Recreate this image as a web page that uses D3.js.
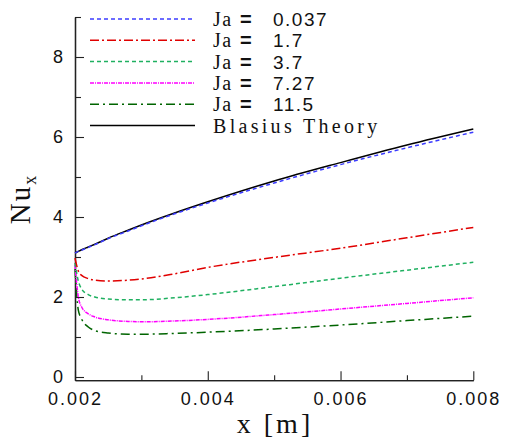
<!DOCTYPE html>
<html><head><meta charset="utf-8">
<script src="https://cdn.jsdelivr.net/npm/d3@7"></script>
<style>body{margin:0;background:#fff}svg{display:block}</style>
</head><body>
<script>
const xs = [0.002, 0.00205, 0.0021, 0.0022, 0.0023, 0.0025, 0.0028, 0.003, 0.0035, 0.004, 0.005, 0.006, 0.007, 0.008];
const ja0037 = [3.10, 3.14, 3.17, 3.24, 3.31, 3.46, 3.65, 3.78, 4.08, 4.35, 4.85, 5.31, 5.73, 6.12];
const ja17   = [2.97, 2.65, 2.54, 2.46, 2.42, 2.40, 2.42, 2.45, 2.58, 2.74, 2.99, 3.22, 3.48, 3.74];
const ja37   = [2.85, 2.40, 2.20, 2.06, 2.00, 1.95, 1.93, 1.93, 1.98, 2.06, 2.26, 2.47, 2.67, 2.87];
const ja727  = [2.80, 2.00, 1.75, 1.58, 1.50, 1.43, 1.39, 1.38, 1.40, 1.44, 1.56, 1.70, 1.84, 1.98];
const ja115  = [2.70, 1.67, 1.45, 1.25, 1.16, 1.10, 1.07, 1.07, 1.09, 1.12, 1.20, 1.30, 1.41, 1.52];
const blasius= [3.10, 3.14, 3.18, 3.25, 3.32, 3.47, 3.67, 3.80, 4.10, 4.38, 4.90, 5.36, 5.80, 6.20];
const labels = ["0.037", "1.7", "3.7", "7.27", "11.5"];
const xTicks = [0.002, 0.004, 0.006, 0.008];
const xMinor = [0.003, 0.005, 0.007];
const yTicks = [0, 2, 4, 6, 8];
const yMinor = [1, 3, 5, 7, 9];

const W = 506, H = 438;
const svg = d3.select("body").append("svg").attr("width", W).attr("height", H);
const x = d3.scaleLinear().domain([0.002, 0.008]).range([75, 473.3]);
const y = d3.scaleLinear().domain([-0.08, 9]).range([380.2, 17]);

const sans = "'Liberation Sans', Arial, sans-serif";
const serif = "'Liberation Serif', 'Times New Roman', serif";

// axes
const gx = svg.append("g").attr("transform", `translate(0,${y(-0.08)})`);
gx.call(d3.axisBottom(x).tickValues(xTicks).tickSize(-9).tickSizeOuter(0).tickFormat(d3.format(".3f")));
gx.append("g").call(d3.axisBottom(x).tickValues(xMinor).tickSize(-5).tickSizeOuter(0).tickFormat(""));
gx.selectAll("text").attr("y", 12).attr("dy", "0.71em").attr("font-size", 18).attr("font-family", sans).attr("fill", "#111").attr("letter-spacing", "2px");

const gy = svg.append("g").attr("transform", `translate(${x(0.002)},0)`);
gy.call(d3.axisLeft(y).tickValues(yTicks).tickSize(-9).tickSizeOuter(0).tickFormat(d3.format("d")));
gy.append("g").call(d3.axisLeft(y).tickValues(yMinor).tickSize(-6).tickSizeOuter(0).tickFormat(""));
gy.selectAll("text").attr("x", -12).attr("font-size", 18).attr("font-family", sans).attr("fill", "#111");
svg.selectAll(".domain").attr("stroke", "#222").attr("stroke-width", 1.3);
svg.selectAll(".tick line").attr("stroke", "#222").attr("stroke-width", 1.1);

// series
const series = [
  {v: ja0037, color: "#3c3cff", dash: "4,3", name: labels[0]},
  {v: ja17, color: "#e00000", dash: "9,3,2,3", name: labels[1]},
  {v: ja37, color: "#1fb060", dash: "4,3", name: labels[2]},
  {v: ja727, color: "#ff00ff", dash: "4,1,1,1", name: labels[3]},
  {v: ja115, color: "#006400", dash: "9,4,2,4", name: labels[4]},
  {v: blasius, color: "#000", dash: null, name: "Blasius Theory"}
];
const line = d3.line().x((d, i) => x(xs[i])).y(d => y(d)).curve(d3.curveMonotoneX);
const plot = svg.append("g");
series.slice().reverse().forEach(s => {
  plot.append("path").datum(s.v).attr("d", line).attr("fill", "none")
    .attr("stroke", s.color).attr("stroke-width", 1.5)
    .attr("stroke-dasharray", s.dash);
});

// legend
const lg = svg.append("g");
series.forEach((s, i) => {
  const yy = 19 + i * 21.3;
  lg.append("line").attr("x1", 90).attr("x2", 195).attr("y1", yy).attr("y2", yy)
    .attr("stroke", s.color).attr("stroke-width", 1.5).attr("stroke-dasharray", s.dash);
  if (i < 5) {
    lg.append("text").attr("x", 213).attr("y", yy + 7).attr("font-size", 20).attr("fill", "#111")
      .attr("font-family", serif).attr("letter-spacing", "1.5px").text("Ja");
    lg.append("text").attr("x", 240).attr("y", yy + 7).attr("font-size", 20).attr("fill", "#111")
      .attr("font-family", sans).attr("font-weight", "bold").text("=");
    lg.append("text").attr("x", 273).attr("y", yy + 7).attr("font-size", 19).attr("fill", "#111")
      .attr("font-family", sans).attr("letter-spacing", "1.5px").text(s.name);
  } else {
    lg.append("text").attr("x", 213).attr("y", yy + 7).attr("font-size", 20).attr("fill", "#111")
      .attr("font-family", serif).attr("letter-spacing", "3.3px").text(s.name);
  }
});

// axis titles
const yt = svg.append("text").attr("transform", "translate(30,199) rotate(-90)")
  .attr("text-anchor", "middle").attr("font-family", serif).attr("font-size", 29).attr("fill", "#111")
  .attr("letter-spacing", "2px");
yt.append("tspan").text("Nu");
yt.append("tspan").attr("font-size", 18).attr("dy", 6).text("x");

svg.append("text").attr("x", 275).attr("y", 433).attr("text-anchor", "middle")
  .attr("font-family", serif).attr("font-size", 28).attr("fill", "#111")
  .attr("letter-spacing", "3px").text("x [m]");
</script>
</body></html>
